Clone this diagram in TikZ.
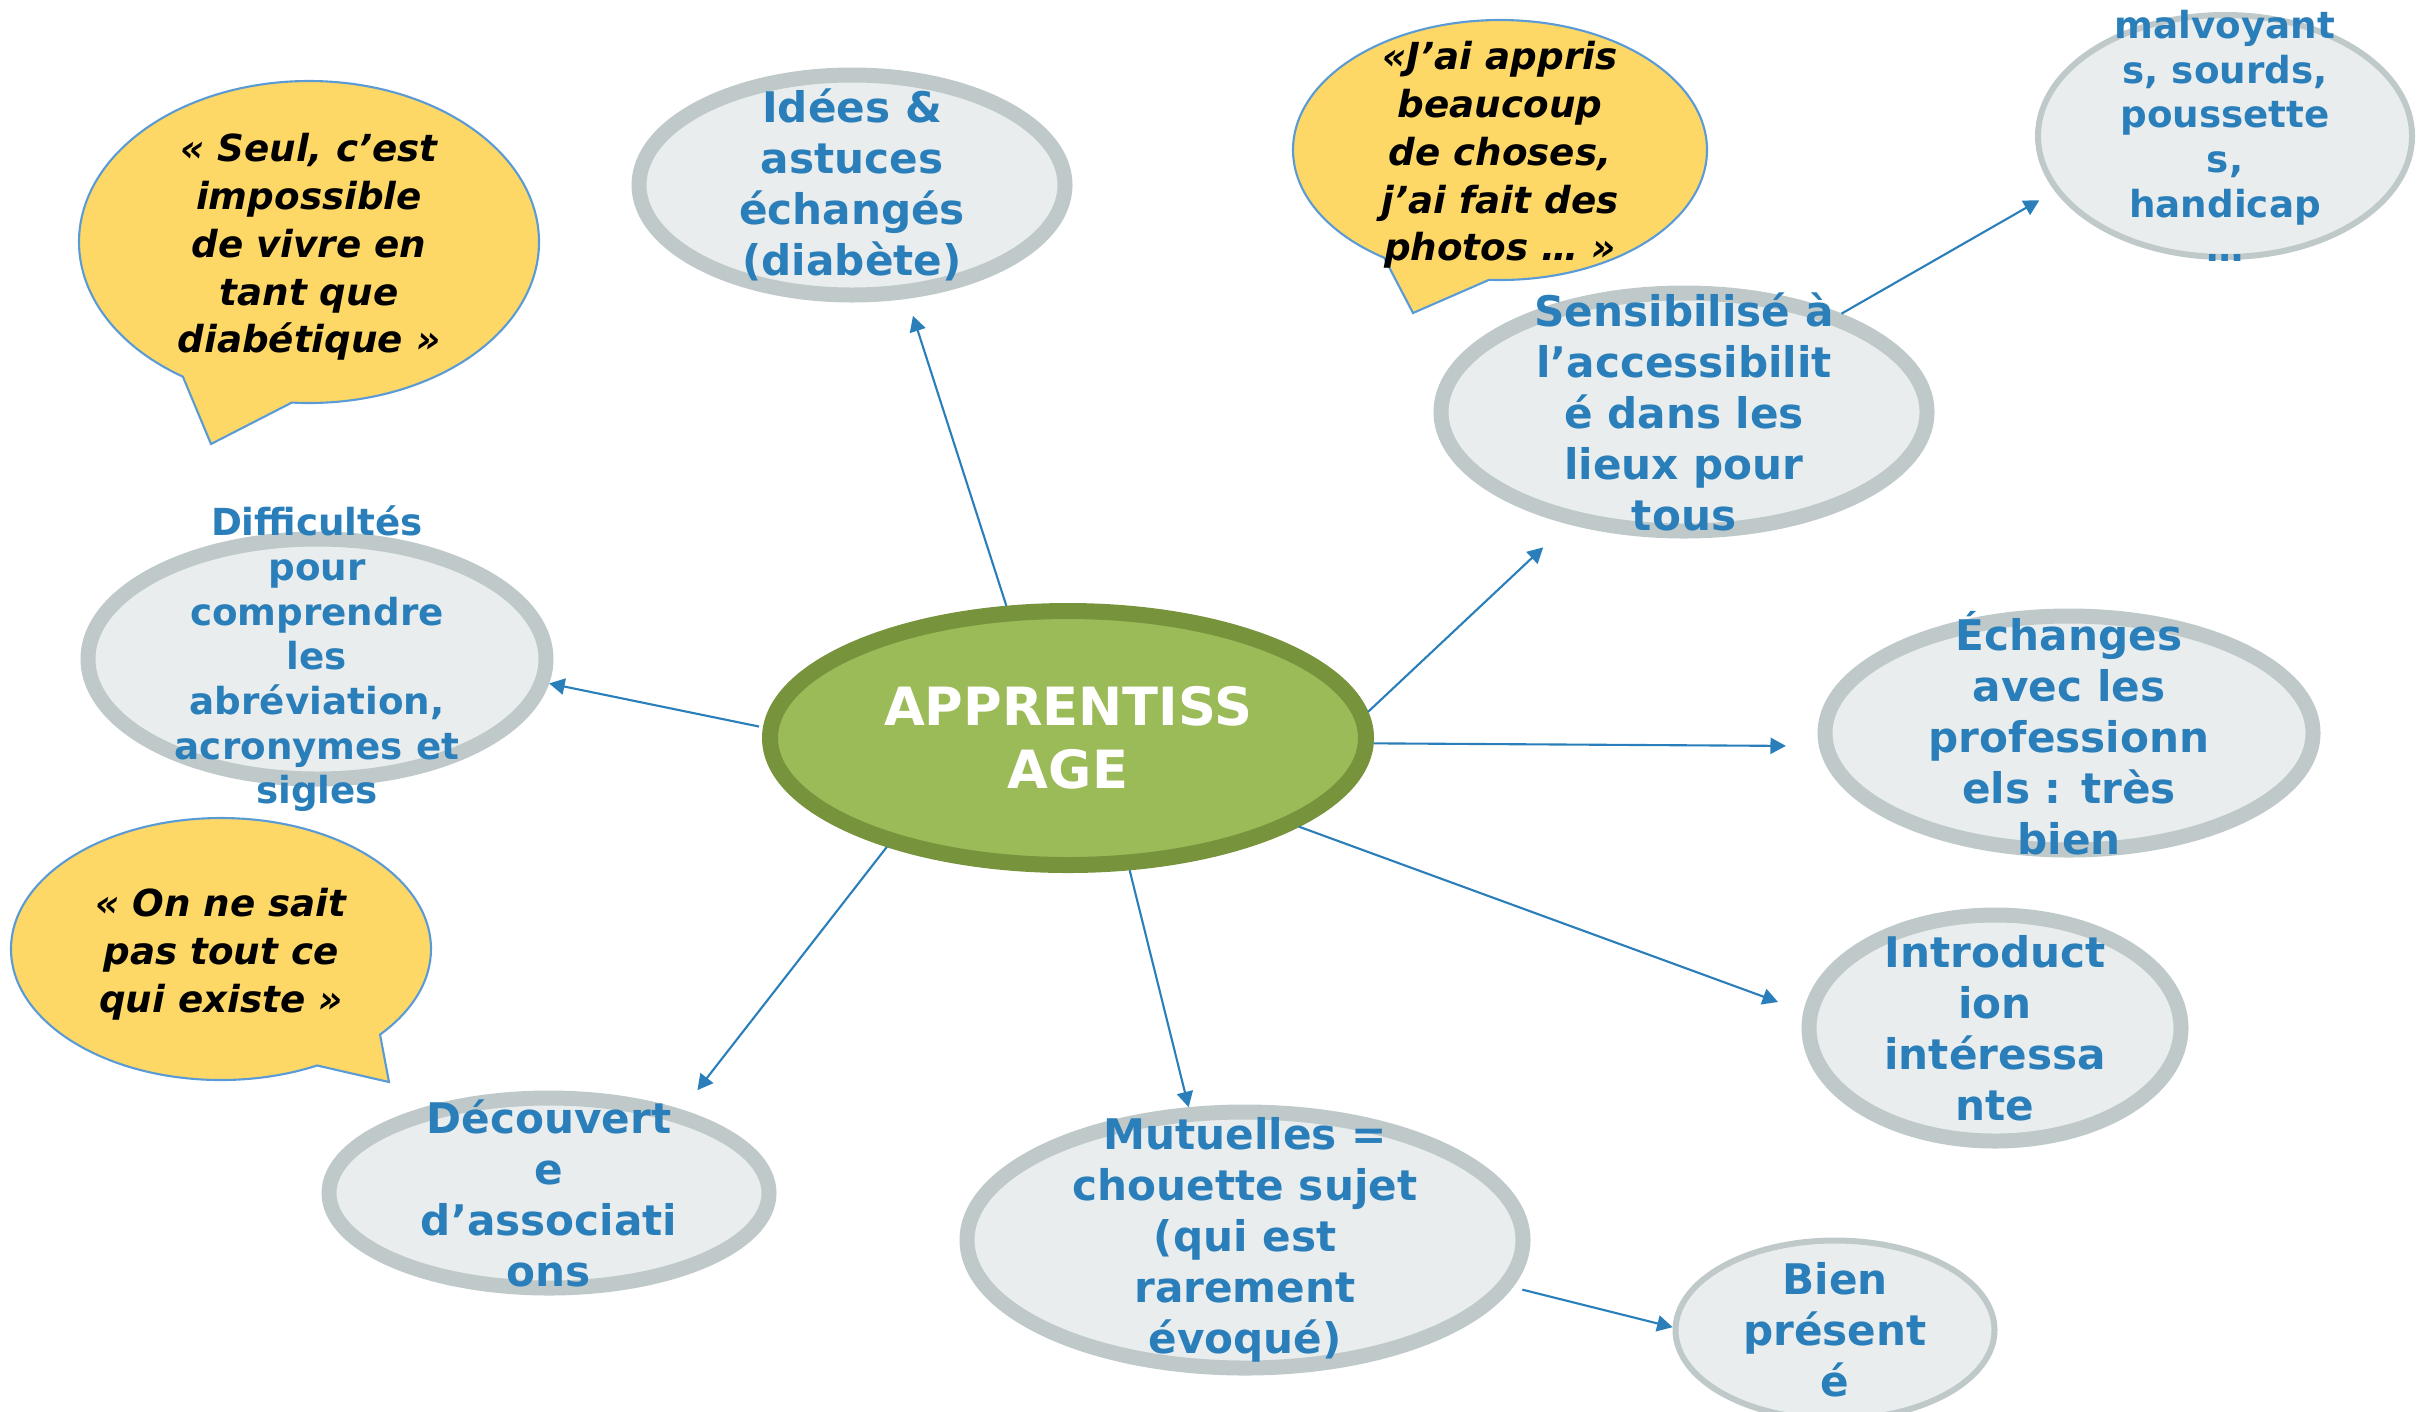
\documentclass[tikz,border=0pt]{standalone}
\usepackage{fontspec}
\setmainfont{DejaVu Sans}
\usepackage{xcolor}
\usepackage{tikz}
\usetikzlibrary{shapes.geometric,shapes.callouts,arrows.meta}

\definecolor{textblue}{HTML}{2A7FBA}
\definecolor{ideafill}{HTML}{E9EDED}
\definecolor{idearing}{HTML}{C0C9C9}
\definecolor{appfill}{HTML}{9BBB59}
\definecolor{appring}{HTML}{77933C}
\definecolor{sayfill}{HTML}{FDD867}
\definecolor{sayline}{HTML}{5B9BD5}

\begin{document}
\begin{tikzpicture}[
    idea/.style={ellipse, draw=idearing, fill=ideafill, line width=0.15cm, inner sep=0pt},
    thinidea/.style={idea, line width=0.06cm},
    appnode/.style={ellipse, draw=appring, fill=appfill, line width=0.16cm, inner sep=0pt},
    ideatext/.style={text=textblue, align=center, inner sep=0pt, font=\bfseries\fontsize{12}{14.5}\selectfont},
    smalltext/.style={ideatext, font=\bfseries\fontsize{10.6}{12.7}\selectfont},
    saybubble/.style={ellipse callout, draw=sayline, fill=sayfill, line width=0.6pt, inner sep=0pt},
    saytext/.style={align=center, inner sep=0pt, yshift=-0.05cm, font=\bfseries\itshape\fontsize{10.6}{13.6}\selectfont},
    linkarrow/.style={draw=textblue, line width=0.6pt, -{Triangle[length=4.4pt,width=4.6pt]}}
]
% page size
\useasboundingbox (0,0) rectangle (24.2,-14.11);

% tips of the speech bubbles
\coordinate (seultip) at (2.11,-4.44);
\coordinate (apprtip) at (14.13,-3.13);
\coordinate (existip) at (3.89,-10.82);

% speech bubbles
\node[saybubble, minimum width=4.60cm, minimum height=3.22cm,
      callout absolute pointer={(seultip)}, callout pointer arc=29] (seul) at (3.09,-2.42) {};
\node[saybubble, minimum width=4.14cm, minimum height=2.60cm,
      callout absolute pointer={(apprtip)}, callout pointer arc=31] (appris) at (15.00,-1.50) {};
\node[saybubble, minimum width=4.20cm, minimum height=2.62cm,
      callout absolute pointer={(existip)}, callout pointer arc=22] (existe) at (2.21,-9.49) {};

\node[saytext] (seul-t) at (seul) {« Seul, c’est\\ impossible\\ de vivre en\\ tant que\\ diabétique »};
\node[saytext] (appris-t) at (appris) {«J’ai appris\\ beaucoup\\ de choses,\\ j’ai fait des\\ photos … »};
\node[saytext] (existe-t) at (existe) {« On ne sait\\ pas tout ce\\ qui existe »};

% the ellipses
\node[appnode, minimum width=5.96cm, minimum height=2.54cm] (app) at (10.68,-7.38) {};
\node[idea, minimum width=4.26cm, minimum height=2.20cm] (idees) at (8.52,-1.85) {};
\node[idea, minimum width=4.58cm, minimum height=2.40cm] (diff) at (3.17,-6.59) {};
\node[idea, minimum width=4.86cm, minimum height=2.38cm] (sens) at (16.84,-4.12) {};
\node[thinidea, minimum width=3.74cm, minimum height=2.42cm] (malv) at (22.25,-1.36) {};
\node[idea, minimum width=4.88cm, minimum height=2.34cm] (echa) at (20.69,-7.33) {};
\node[idea, minimum width=3.72cm, minimum height=2.26cm] (intro) at (19.95,-10.28) {};
\node[idea, minimum width=4.40cm, minimum height=1.90cm] (deco) at (5.49,-11.93) {};
\node[idea, minimum width=5.56cm, minimum height=2.56cm] (mutu) at (12.45,-12.40) {};
\node[thinidea, minimum width=3.19cm, minimum height=1.79cm] (bien) at (18.35,-13.30) {};

% texts
\node[ideatext, text=white, font=\bfseries\fontsize{15}{18}\selectfont] (app-t) at (app) {APPRENTISS\\ AGE};
\node[ideatext] (idees-t) at (idees) {Idées \&\\ astuces\\ échangés\\ (diabète)};
\node[smalltext] (diff-t) at (diff) {Difficultés\\ pour\\ comprendre\\ les\\ abréviation,\\ acronymes et\\ sigles};
\node[ideatext] (sens-t) at (sens) {Sensibilisé à\\ l’accessibilit\\ é dans les\\ lieux pour\\ tous};
\node[smalltext] (malv-t) at (malv) {malvoyant\\ s, sourds,\\ poussette\\ s,\\ handicap\\ …};
\node[ideatext] (echa-t) at (echa) {Échanges\\ avec les\\ professionn\\ els : très\\ bien};
\node[ideatext] (intro-t) at (intro) {Introduct\\ ion\\ intéressa\\ nte};
\node[ideatext] (deco-t) at (deco) {Découvert\\ e\\ d’associati\\ ons};
\node[ideatext] (mutu-t) at (mutu) {Mutuelles =\\ chouette sujet\\ (qui est\\ rarement\\ évoqué)};
\node[ideatext] (bien-t) at (bien) {Bien\\ présent\\ é};

% arrows
\foreach \from/\to/\sa/\sb in {app.115/idees.-64/0/0.18, app.178/diff.-6/0.04/0,
    app.5/sens.-136/0/0.34, sens.32/malv.198/0/0.18, app.-1/echa.183/0/0.33,
    app.-21/intro.175/0/0.27, app.-65/mutu.113/0/0, app.-149/deco.32/0/0.25,
    mutu.-10/bien.179/0.1/0}
    \draw[linkarrow, shorten <=\sa cm, shorten >=\sb cm] (\from) -- (\to);

\end{tikzpicture}
\end{document}
